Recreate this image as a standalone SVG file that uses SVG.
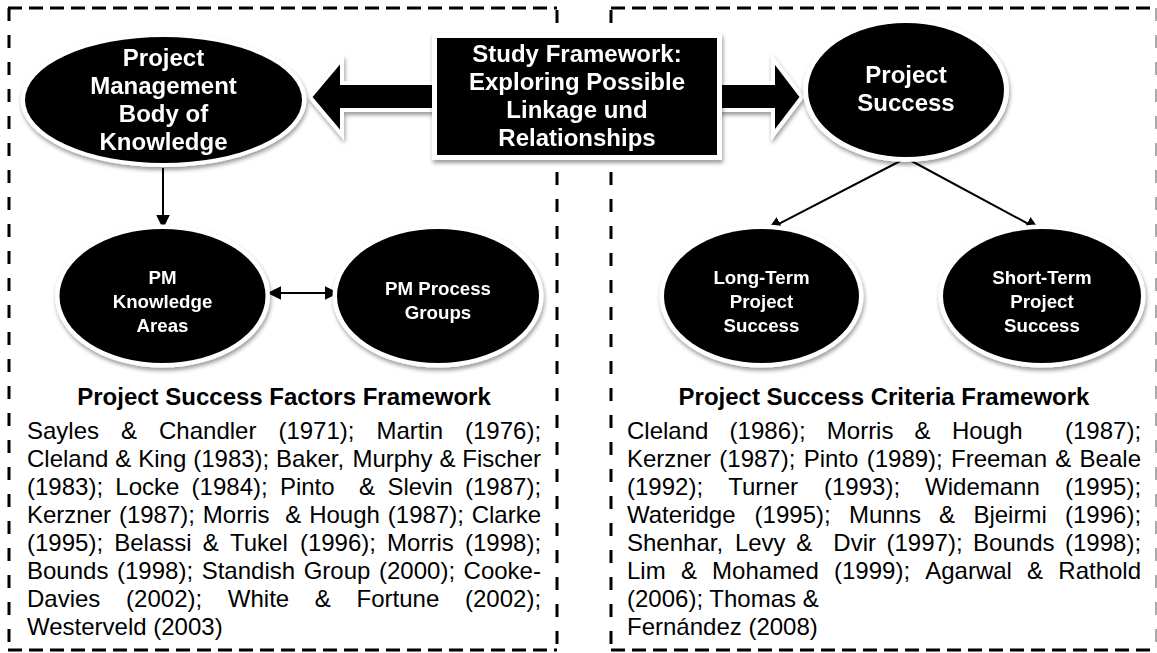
<svg xmlns="http://www.w3.org/2000/svg" width="1157" height="653" viewBox="0 0 1157 653">
<defs>
<style>
.hd{fill:none;stroke:#000;stroke-width:3;stroke-dasharray:14 7}
.vd{fill:none;stroke:#000;stroke-width:3;stroke-dasharray:13 14}
.halo{fill:#fff}
.blk{fill:#000}
.wt{font-family:"Liberation Sans",Arial,sans-serif;font-weight:bold;fill:#fff;text-anchor:middle}
.t24{font-size:24px}
.t19{font-size:18.7px}
.ttl{font-family:"Liberation Sans",Arial,sans-serif;font-weight:bold;font-size:24px;fill:#000;text-anchor:middle}
.body{font-family:"Liberation Sans",Arial,sans-serif;font-size:24px;fill:#000}
.conn{fill:none;stroke:#000;stroke-width:2}
.barrow{fill:#000;stroke:#fff;stroke-width:4;stroke-linejoin:miter}
</style>
<filter id="sh" x="-15%" y="-15%" width="135%" height="140%">
<feGaussianBlur in="SourceAlpha" stdDeviation="2.2"/>
<feOffset dx="1" dy="3"/>
<feComponentTransfer><feFuncA type="linear" slope="0.4"/></feComponentTransfer>
<feMerge><feMergeNode/><feMergeNode in="SourceGraphic"/></feMerge>
</filter>
<marker id="ah" markerUnits="userSpaceOnUse" markerWidth="14" markerHeight="14" viewBox="0 0 12 12" refX="2" refY="6" orient="auto-start-reverse">
<path d="M0,0 L12,6 L0,12 z" fill="#000"/>
</marker>
</defs>
<rect width="1157" height="653" fill="#fff"/>

<g id="frames">
<line class="hd" x1="8" y1="8" x2="557" y2="8"/>
<line class="hd" x1="8" y1="650" x2="557" y2="650"/>
<line class="vd" x1="9" y1="8" x2="9" y2="650"/>
<line class="vd" x1="557" y1="10" x2="557" y2="650"/>
<line class="hd" x1="611" y1="8" x2="1157" y2="8"/>
<line class="hd" x1="611" y1="650" x2="1157" y2="650"/>
<line class="vd" x1="611" y1="10" x2="611" y2="650"/>
<line x1="1156" y1="8" x2="1156" y2="650" stroke="#aaa" stroke-width="2" stroke-dasharray="13 14"/>
</g>

<g id="block-arrows" filter="url(#sh)">
<polygon class="barrow" points="310,97 342,59 342,83 440,83 440,110 342,110 342,135"/>
<polygon class="barrow" points="714,83 773,83 773,59 802,97 773,135 773,110 714,110"/>
</g>

<g id="connectors">
<line class="conn" x1="163" y1="168" x2="163" y2="217" marker-end="url(#ah)"/>
<line class="conn" x1="279" y1="293" x2="327" y2="293" marker-start="url(#ah)" marker-end="url(#ah)"/>
<line class="conn" x1="906" y1="158" x2="777.9" y2="224.4" marker-end="url(#ah)"/>
<line class="conn" x1="906" y1="158" x2="1029.2" y2="224.3" marker-end="url(#ah)"/>
</g>

<g id="study-framework" filter="url(#sh)">
<rect class="halo" x="432" y="33" width="290" height="127"/>
<rect class="blk" x="437" y="38" width="280" height="117"/>
<text class="wt t24" x="577" y="62">Study Framework:</text>
<text class="wt t24" x="577" y="90">Exploring Possible</text>
<text class="wt t24" x="577" y="118">Linkage und</text>
<text class="wt t24" x="577" y="146">Relationships</text>
</g>

<g id="pmbok" filter="url(#sh)">
<ellipse class="halo" cx="163.5" cy="100" rx="143" ry="67"/>
<ellipse class="blk" cx="163.5" cy="100" rx="138.5" ry="63"/>
<text class="wt t24" x="163.5" y="66">Project</text>
<text class="wt t24" x="163.5" y="94">Management</text>
<text class="wt t24" x="163.5" y="122">Body of</text>
<text class="wt t24" x="163.5" y="150">Knowledge</text>
</g>

<g id="project-success" filter="url(#sh)">
<ellipse class="halo" cx="906" cy="90" rx="103" ry="72"/>
<ellipse class="blk" cx="906" cy="90" rx="98" ry="67"/>
<text class="wt t24" x="906" y="83">Project</text>
<text class="wt t24" x="906" y="111">Success</text>
</g>

<g id="pm-knowledge-areas" filter="url(#sh)">
<ellipse class="halo" cx="162.5" cy="296" rx="107.5" ry="71.5"/>
<ellipse class="blk" cx="162.5" cy="296" rx="103" ry="67"/>
<text class="wt t19" x="162.5" y="284">PM</text>
<text class="wt t19" x="162.5" y="308">Knowledge</text>
<text class="wt t19" x="162.5" y="332">Areas</text>
</g>

<g id="pm-process-groups" filter="url(#sh)">
<ellipse class="halo" cx="438" cy="296" rx="105.5" ry="71.5"/>
<ellipse class="blk" cx="438" cy="296" rx="101" ry="67"/>
<text class="wt t19" x="438" y="295">PM Process</text>
<text class="wt t19" x="438" y="319">Groups</text>
</g>

<g id="long-term" filter="url(#sh)">
<ellipse class="halo" cx="761.5" cy="296" rx="102" ry="71.5"/>
<ellipse class="blk" cx="761.5" cy="296" rx="97.5" ry="67"/>
<text class="wt t19" x="761.5" y="284">Long-Term</text>
<text class="wt t19" x="761.5" y="308">Project</text>
<text class="wt t19" x="761.5" y="332">Success</text>
</g>

<g id="short-term" filter="url(#sh)">
<ellipse class="halo" cx="1042" cy="296" rx="103.5" ry="71.5"/>
<ellipse class="blk" cx="1042" cy="296" rx="99" ry="67"/>
<text class="wt t19" x="1042" y="284">Short-Term</text>
<text class="wt t19" x="1042" y="308">Project</text>
<text class="wt t19" x="1042" y="332">Success</text>
</g>

<g id="success-factors">
<text class="ttl" x="284" y="405">Project Success Factors Framework</text>
<text class="body" y="439"><tspan x="27">Sayles</tspan> <tspan x="121">&amp;</tspan> <tspan x="159">Chandler</tspan> <tspan x="278.4">(1971);</tspan> <tspan x="376.4">Martin</tspan> <tspan x="465">(1976);</tspan></text>
<text class="body" y="467"><tspan x="27">Cleland</tspan> <tspan x="115.3">&amp;</tspan> <tspan x="138.2">King</tspan> <tspan x="193.2">(1983);</tspan> <tspan x="276.1">Baker,</tspan> <tspan x="352.4">Murphy</tspan> <tspan x="439.4">&amp;</tspan> <tspan x="462.3">Fischer</tspan></text>
<text class="body" y="495"><tspan x="27">(1983);</tspan> <tspan x="115.3">Locke</tspan> <tspan x="191.6">(1984);</tspan> <tspan x="279.9">Pinto</tspan> <tspan x="359.1">&amp;</tspan> <tspan x="387.4">Slevin</tspan> <tspan x="465">(1987);</tspan></text>
<text class="body" y="523"><tspan x="27">Kerzner</tspan> <tspan x="118.9">(1987);</tspan> <tspan x="202.8">Morris</tspan> <tspan x="285.3">&amp;</tspan> <tspan x="309.2">Hough</tspan> <tspan x="387.8">(1987);</tspan> <tspan x="471.7">Clarke</tspan></text>
<text class="body" y="551"><tspan x="27">(1995);</tspan> <tspan x="114.2">Belassi</tspan> <tspan x="202.8">&amp;</tspan> <tspan x="230">Tukel</tspan> <tspan x="299.9">(1996);</tspan> <tspan x="387.1">Morris</tspan> <tspan x="465">(1998);</tspan></text>
<text class="body" y="579"><tspan x="27">Bounds</tspan> <tspan x="117">(1998);</tspan> <tspan x="201.7">Standish</tspan> <tspan x="303.7">Group</tspan> <tspan x="379">(2000);</tspan> <tspan x="463.6">Cooke-</tspan></text>
<text class="body" y="607"><tspan x="27">Davies</tspan> <tspan x="126.1">(2002);</tspan> <tspan x="227.8">White</tspan> <tspan x="314.8">&amp;</tspan> <tspan x="356.6">Fortune</tspan> <tspan x="465">(2002);</tspan></text>
<text class="body" x="27" y="635">Westerveld (2003)</text>
</g>

<g id="success-criteria">
<text class="ttl" x="884" y="405">Project Success Criteria Framework</text>
<text class="body" y="439"><tspan x="627">Cleland</tspan> <tspan x="729.6">(1986);</tspan> <tspan x="826.8">Morris</tspan> <tspan x="914.6">&amp;</tspan> <tspan x="951.9">Hough</tspan> <tspan x="1065">(1987);</tspan></text>
<text class="body" y="467"><tspan x="627">Kerzner</tspan> <tspan x="719.3">(1987);</tspan> <tspan x="803.7">Pinto</tspan> <tspan x="866.7">(1989);</tspan> <tspan x="951">Freeman</tspan> <tspan x="1055.3">&amp;</tspan> <tspan x="1079.6">Beale</tspan></text>
<text class="body" y="495"><tspan x="627">(1992);</tspan> <tspan x="728.2">Turner</tspan> <tspan x="824">(1993);</tspan> <tspan x="925.1">Widemann</tspan> <tspan x="1065">(1995);</tspan></text>
<text class="body" y="523"><tspan x="627">Wateridge</tspan> <tspan x="754.6">(1995);</tspan> <tspan x="848.9">Munns</tspan> <tspan x="939.1">&amp;</tspan> <tspan x="973.4">Bjeirmi</tspan> <tspan x="1065">(1996);</tspan></text>
<text class="body" y="551"><tspan x="627">Shenhar,</tspan> <tspan x="734.9">Levy</tspan> <tspan x="796.2">&amp;</tspan> <tspan x="833.3">Dvir</tspan> <tspan x="886.5">(1997);</tspan> <tspan x="973.1">Bounds</tspan> <tspan x="1065">(1998);</tspan></text>
<text class="body" y="579"><tspan x="627">Lim</tspan> <tspan x="680.9">&amp;</tspan> <tspan x="712.1">Mohamed</tspan> <tspan x="834">(1999);</tspan> <tspan x="925.2">Agarwal</tspan> <tspan x="1027.1">&amp;</tspan> <tspan x="1058.3">Rathold</tspan></text>
<text class="body" x="627" y="607">(2006); Thomas &amp;</text>
<text class="body" x="627" y="635">Fernández (2008)</text>
</g>
</svg>
